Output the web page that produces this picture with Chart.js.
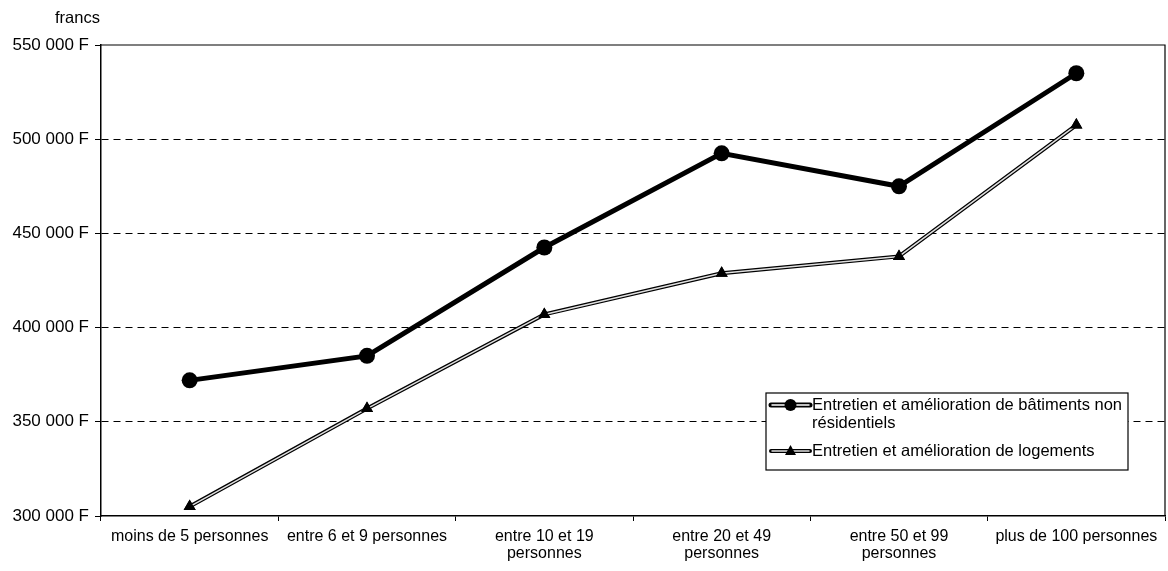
<!DOCTYPE html>
<html>
<head>
<meta charset="utf-8">
<script src="https://cdn.jsdelivr.net/npm/chart.js@4"></script>
<style>
  html, body { margin: 0; padding: 0; background: #fff; overflow: hidden; }
  #wrap { width: 1168px; height: 571px; position: relative; }
  canvas { display: block; }
</style>
</head>
<body>
<div id="wrap"><canvas id="chart"></canvas></div>
<script>
// Data
const categories = [
    'moins de 5 personnes',
    'entre 6 et 9 personnes',
    ['entre 10 et 19', 'personnes'],
    ['entre 20 et 49', 'personnes'],
    ['entre 50 et 99', 'personnes'],
    'plus de 100 personnes'
];
const seriesNames = [
    ['Entretien et amélioration de bâtiments non', 'résidentiels'],
    ['Entretien et amélioration de logements']
];
const batiments = [372000, 385000, 442500, 492500, 475000, 535000];
const logements = [305000, 357000, 407000, 428800, 437800, 507500];
const yTicks = [300000, 350000, 400000, 450000, 500000, 550000];
const unitLabel = 'francs';

const FONT = 'Arial, "Liberation Sans", Helvetica, sans-serif';

function formatF(v) {
    return String(v).replace(/\B(?=(\d{3})+(?!\d))/g, ' ') + ' F';
}

// draws the hollow (double) line of the second series, then its markers again
const hollowLine = {
    id: 'hollowLine',
    afterDatasetDraw(chart, args) {
        if (args.index !== 1) return;
        const ctx = chart.ctx;
        const pts = args.meta.data;
        ctx.save();
        ctx.strokeStyle = '#e0e0e0';
        ctx.lineWidth = 1.5;
        ctx.lineJoin = 'round';
        ctx.beginPath();
        pts.forEach((p, i) => i ? ctx.lineTo(p.x, p.y) : ctx.moveTo(p.x, p.y));
        ctx.stroke();
        ctx.restore();
        pts.forEach(p => p.draw(ctx, chart.chartArea));
    }
};

// frame, unit label and legend box
const decorations = {
    id: 'decorations',
    beforeDatasetsDraw(chart) {
        const ctx = chart.ctx;
        const a = chart.chartArea;
        ctx.save();
        ctx.strokeStyle = '#000';
        ctx.lineWidth = 1.2;
        ctx.beginPath();
        ctx.moveTo(a.left, a.top);
        ctx.lineTo(a.right, a.top);
        ctx.lineTo(a.right, a.bottom);
        ctx.stroke();
        ctx.restore();
    },
    afterDraw(chart) {
        const ctx = chart.ctx;
        ctx.save();
        ctx.fillStyle = '#000';
        ctx.font = '16.5px ' + FONT;
        ctx.textBaseline = 'middle';
        ctx.textAlign = 'left';
        ctx.fillText(unitLabel, 55, 18);

        // legend
        const lx = 766, ly = 393, lw = 362, lh = 77;
        ctx.fillStyle = '#fff';
        ctx.fillRect(lx, ly, lw, lh);
        ctx.strokeStyle = '#000';
        ctx.lineWidth = 1.2;
        ctx.strokeRect(lx, ly, lw, lh);

        const ds = chart.data.datasets;
        const rows = [405, 451];
        rows.forEach((y, i) => {
            const x0 = lx + 5, x1 = lx + 44, xm = (x0 + x1) / 2;
            ctx.lineCap = 'round';
            ctx.strokeStyle = '#000';
            ctx.lineWidth = i === 0 ? 5 : 4;
            ctx.beginPath(); ctx.moveTo(x0, y); ctx.lineTo(x1, y); ctx.stroke();
            ctx.strokeStyle = i === 0 ? '#fff' : '#e0e0e0';
            ctx.lineWidth = 1.5;
            ctx.beginPath(); ctx.moveTo(x0 + 1, y); ctx.lineTo(x1 - 1, y); ctx.stroke();
            ctx.fillStyle = '#000';
            if (i === 0) {
                ctx.beginPath(); ctx.arc(xm, y, 6, 0, Math.PI * 2); ctx.fill();
            } else {
                ctx.beginPath();
                ctx.moveTo(xm, y - 6); ctx.lineTo(xm + 5.5, y + 4); ctx.lineTo(xm - 5.5, y + 4);
                ctx.closePath(); ctx.fill();
            }
            ctx.fillStyle = '#000';
            ctx.font = '16.5px ' + FONT;
            ctx.textBaseline = 'middle';
            ds[i].label.forEach((t, k) => ctx.fillText(t, lx + 46, y + k * 18));
        });
        ctx.restore();
    }
};

const ctx = document.getElementById('chart').getContext('2d');
new Chart(ctx, {
    type: 'line',
    data: {
        labels: categories,
        datasets: [
            {
                label: seriesNames[0],
                data: batiments,
                borderColor: '#000',
                backgroundColor: '#000',
                borderWidth: 5,
                pointStyle: 'circle',
                pointRadius: 8,
                pointBackgroundColor: '#000',
                pointBorderWidth: 0,
                tension: 0
            },
            {
                label: seriesNames[1],
                data: logements,
                borderColor: '#000',
                backgroundColor: '#000',
                borderWidth: 4,
                pointStyle: 'triangle',
                pointRadius: 7,
                pointBackgroundColor: '#000',
                pointBorderWidth: 0,
                tension: 0
            }
        ]
    },
    options: {
        responsive: true,
        maintainAspectRatio: false,
        animation: false,
        layout: { autoPadding: false, padding: { left: 0, right: 3, top: 45, bottom: 0 } },
        plugins: {
            legend: { display: false },
            tooltip: { enabled: false }
        },
        scales: {
            x: {
                offset: true,
                border: { display: true, color: '#000', width: 1.5 },
                grid: {
                    offset: true,
                    drawOnChartArea: false,
                    drawTicks: true,
                    tickLength: 5,
                    color: '#000',
                    lineWidth: 1
                },
                ticks: {
                    color: '#000',
                    font: { family: FONT, size: 16, lineHeight: 1.07 },
                    padding: 7,
                    maxRotation: 0,
                    autoSkip: false
                },
                afterFit(scale) {
                    scale.height = 55;
                    scale.paddingLeft = 0;
                    scale.paddingRight = 0;
                }
            },
            y: {
                min: 300000,
                max: 550000,
                border: { display: true, color: '#000', width: 1.5, dash: [7, 5] },
                grid: {
                    color: c => (c.tick && (c.tick.value === 300000 || c.tick.value === 550000)) ? 'rgba(0,0,0,0)' : '#000',
                    lineWidth: 1,
                    tickColor: '#000',
                    tickBorderDash: [],
                    tickLength: 6
                },
                afterBuildTicks(scale) {
                    scale.ticks = yTicks.map(v => ({ value: v }));
                },
                ticks: {
                    color: '#000',
                    font: { family: FONT, size: 17 },
                    padding: 6,
                    callback: v => formatF(v)
                },
                afterFit(scale) { scale.width = 101; }
            }
        }
    },
    plugins: [decorations, hollowLine]
});
</script>
</body>
</html>
